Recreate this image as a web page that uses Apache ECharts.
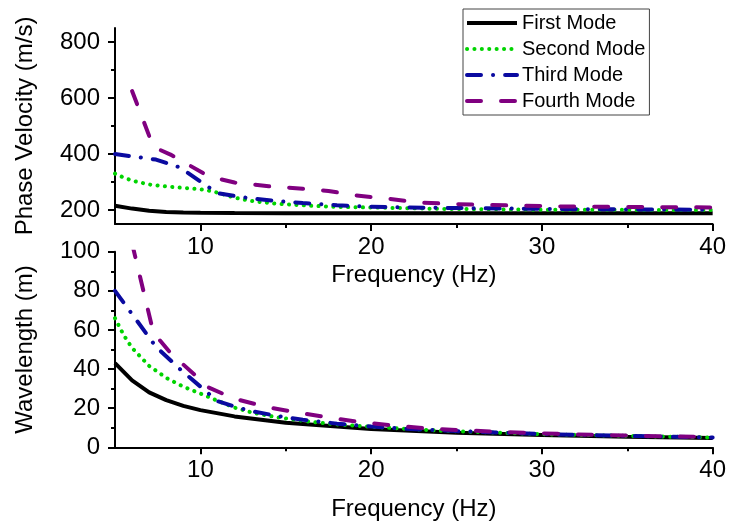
<!DOCTYPE html>
<html><head><meta charset="utf-8">
<script src="https://cdn.jsdelivr.net/npm/echarts@6/dist/echarts.min.js"></script>
<style>html,body{margin:0;padding:0;background:#fff}#c{width:729px;height:528px}</style>
</head><body><div id="c"></div>
<script>
const seriesNames = ['First Mode','Second Mode','Third Mode','Fourth Mode'];
const freq1 = [5,6,7,8,9,10,12,15,20,25,30,35,40];
const vel1  = [215,205,197,193,191,190,189,188,188,188,188,188,188];
const wave1 = [43.0,34.2,28.1,24.1,21.2,19.0,15.8,12.5,9.4,7.5,6.3,5.4,4.7];
const freq2 = [5,5.5,6,7,8,9,10.3,11,12,13,14.5,16.5,18,20,24,30,40];
const vel2  = [330,316,305,291,284,279,272,262,244,232,222,215,211,209,204,201,200];
const wave2 = [66,57.5,50.8,41.6,35.5,31.0,26.4,23.8,20.3,17.8,15.3,13.0,11.7,10.5,8.5,6.7,5.0];
const freq3 = [5,7.4,8.8,11,12,13,14.5,16,18,20,22,25,30,35,40];
const vel3  = [400,380,352,260,250,241,232,225,217,212,209,207,204,202,201];
const wave3 = [80,51.4,40,23.6,20.8,18.5,16,14.1,12.1,10.6,9.5,8.3,6.8,5.8,5.0];
const freq4 = [6,7.25,8.25,10.5,12,14,16,17.5,19,21,23,25,27,29,32,35,40];
const vel4  = [625,425,398,320,298,285,276,268,253,240,226,221,218,215,212,211,209];
const wave4 = [104.2,58.6,48.2,30.5,24.8,20.4,17.3,15.3,13.3,11.4,9.8,8.8,8.1,7.4,6.6,6.0,5.2];
const xMajorTicks = [10,20,30,40];
const xMinorTicks = [15,25,35];
const velMajorTicks = [200,400,600,800];
const velMinorTicks = [300,500,700];

const FF = 'Liberation Sans, Arial, sans-serif';
const pair = (xs, ys) => xs.map((x, i) => [x, ys[i]]);

const styles = [
  {color:'#000000', lineStyle:{width:4, type:'solid'}},
  {color:'#00d400', lineStyle:{width:4, type:[0.1,7.3], cap:'round'}},
  {color:'#0a0aa0', lineStyle:{width:4, type:[14,12,0.1,12], cap:'round'}},
  {color:'#800080', lineStyle:{width:4, type:[14,20], cap:'round'}}
];
const freqs = [freq1,freq2,freq3,freq4];
const vels = [vel1,vel2,vel3,vel4];
const waves = [wave1,wave2,wave3,wave4];

function xAxisPair(gi, nameGap){
  return [
    {type:'value', gridIndex:gi, min:5, max:40, position:'bottom',
     name:'Frequency (Hz)', nameLocation:'middle', nameGap:nameGap,
     nameTextStyle:{fontSize:24, color:'#000', fontFamily:FF},
     axisLine:{show:true, onZero:false, lineStyle:{color:'#000', width:2}},
     axisTick:{show:true, customValues:xMajorTicks, length:7, lineStyle:{color:'#000', width:2}},
     axisLabel:{show:true, customValues:xMajorTicks, fontSize:24, color:'#000', fontFamily:FF, margin:11},
     splitLine:{show:false}},
    {type:'value', gridIndex:gi, min:5, max:40, position:'bottom',
     axisLine:{show:false, onZero:false},
     axisTick:{show:true, customValues:xMinorTicks, length:4, lineStyle:{color:'#000', width:2}},
     axisLabel:{show:false, customValues:xMinorTicks},
     splitLine:{show:false}}
  ];
}

const option = {
  animation:false,
  backgroundColor:'#fff',
  grid:[
    {left:115, right:16, top:28, height:196},
    {left:115, right:16, top:251.7, height:195.6}
  ],
  legend:{
    orient:'vertical', left:463, top:9, itemWidth:50, itemHeight:14, itemGap:6,
    padding:[4,4,4,2], borderColor:'#444', borderWidth:1, backgroundColor:'#fff',
    itemStyle:{opacity:0},
    lineStyle:{width:4},
    textStyle:{fontSize:20, color:'#000', fontFamily:FF},
    data:seriesNames
  },
  xAxis:[...xAxisPair(0, 39), ...xAxisPair(1, 50)],
  yAxis:[
    {type:'value', gridIndex:0, min:150, max:850, position:'left',
     name:'Phase Velocity (m/s)', nameLocation:'middle', nameRotate:90, nameGap:78,
     nameTextStyle:{fontSize:24, color:'#000', fontFamily:FF},
     axisLine:{show:true, onZero:false, lineStyle:{color:'#000', width:2}},
     axisTick:{show:true, customValues:velMajorTicks, length:7, lineStyle:{color:'#000', width:2}},
     axisLabel:{show:true, customValues:velMajorTicks, fontSize:24, color:'#000', fontFamily:FF, margin:15},
     splitLine:{show:false}},
    {type:'value', gridIndex:0, min:150, max:850, position:'left',
     axisLine:{show:false, onZero:false},
     axisTick:{show:true, customValues:velMinorTicks, length:4, lineStyle:{color:'#000', width:2}},
     axisLabel:{show:false, customValues:velMinorTicks},
     splitLine:{show:false}},
    {type:'value', gridIndex:1, min:0, max:100, interval:20, position:'left',
     name:'Wavelength (m)', nameLocation:'middle', nameRotate:90, nameGap:78,
     nameTextStyle:{fontSize:24, color:'#000', fontFamily:FF},
     axisLine:{show:true, onZero:false, lineStyle:{color:'#000', width:2}},
     axisTick:{show:true, length:7, lineStyle:{color:'#000', width:2}},
     minorTick:{show:true, splitNumber:2, length:4, lineStyle:{color:'#000', width:2}},
     axisLabel:{show:true, fontSize:24, color:'#000', fontFamily:FF, margin:15},
     splitLine:{show:false}}
  ],
  series:[]
};

for (let i = 0; i < 4; i++) {
  option.series.push({
    name:seriesNames[i], type:'line', xAxisIndex:0, yAxisIndex:0,
    data:pair(freqs[i], vels[i]), symbol:'none', showSymbol:false, clip:true,
    color:styles[i].color, lineStyle:Object.assign({color:styles[i].color}, styles[i].lineStyle)
  });
}
for (let i = 0; i < 4; i++) {
  option.series.push({
    name:seriesNames[i], type:'line', xAxisIndex:2, yAxisIndex:2,
    data:pair(freqs[i], waves[i]), symbol:'none', showSymbol:false, clip:true,
    color:styles[i].color, lineStyle:Object.assign({color:styles[i].color}, styles[i].lineStyle)
  });
}

const chart = echarts.init(document.getElementById('c'), null, {renderer:'canvas'});
chart.setOption(option);
</script>
</body></html>
